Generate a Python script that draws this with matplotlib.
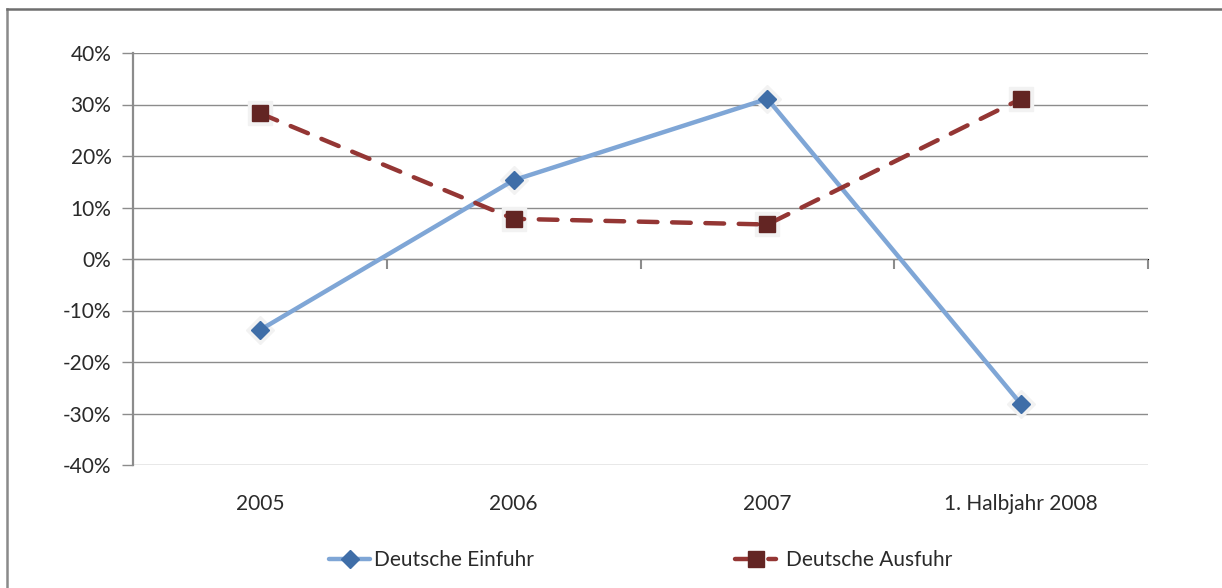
import matplotlib
matplotlib.use("Agg")
import matplotlib.pyplot as plt
from matplotlib.lines import Line2D
from matplotlib.ticker import FuncFormatter

# ---- data ----
categories = ["2005", "2006", "2007", "1. Halbjahr 2008"]
einfuhr = [-0.138, 0.153, 0.311, -0.282]
ausfuhr = [0.283, 0.078, 0.067, 0.311]
series_labels = ["Deutsche Einfuhr", "Deutsche Ausfuhr"]
y_ticks = [-0.4, -0.3, -0.2, -0.1, 0.0, 0.1, 0.2, 0.3, 0.4]

FONT = ["Lato", "DejaVu Sans"]
plt.rcParams["font.family"] = FONT
TXT = "#2a2a2a"
GRID = "#8c8c8c"

fig = plt.figure(figsize=(12.22, 5.88), dpi=100)
fig.patch.set_facecolor("white")

# outer frame (left and top edges)
fig.add_artist(Line2D([7 / 1222, 7 / 1222], [0, 1 - 9 / 588], transform=fig.transFigure,
                      color="#8a8a8a", lw=1.8))
fig.add_artist(Line2D([7 / 1222, 1], [1 - 9 / 588, 1 - 9 / 588], transform=fig.transFigure,
                      color="#6e6e6e", lw=1.8))

ax = fig.add_axes([133 / 1222, 1 - 465 / 588, (1148 - 133) / 1222, (465 - 53) / 588])
x = [i + 0.5 for i in range(len(categories))]

ax.set_xlim(0, len(categories))
ax.set_ylim(y_ticks[0], y_ticks[-1])

# grid
ax.set_yticks(y_ticks)
ax.yaxis.set_major_formatter(FuncFormatter(lambda v, p: f"{v * 100:.0f}%"))
ax.grid(axis="y", color=GRID, lw=1.0, zorder=0)
ax.grid(axis="x", visible=False)

for s in ["top", "right", "bottom"]:
    ax.spines[s].set_visible(False)
ax.spines["left"].set_color(GRID)
ax.spines["left"].set_linewidth(1.6)

ax.tick_params(axis="y", direction="out", length=8, width=1.0, color=GRID,
               labelsize=15, labelcolor=TXT, pad=7.5)
ax.set_xticks(x)
ax.set_xticklabels(categories)
ax.tick_params(axis="x", length=0, labelsize=15, labelcolor=TXT, pad=21)

# zero axis with category boundary ticks
sec = ax.secondary_xaxis(0.5)
bounds = list(range(len(categories) + 1))
sec.set_xticks(bounds)
sec.set_xticklabels([""] * len(bounds))
sec.tick_params(axis="x", direction="in", length=7, width=1.5, color=GRID)
sec.spines["bottom"].set_color("#808080")
sec.spines["bottom"].set_linewidth(2.6)

# halos
ax.plot(x, einfuhr, linestyle="none", marker="D", markersize=14, color="#f2f2f2", zorder=3)
ax.plot(x, ausfuhr, linestyle="none", marker="s", markersize=17, color="#f2f2f2", zorder=3)

l1, = ax.plot(x, einfuhr, color="#7fa6d6", lw=3.2, marker="D", markersize=9,
              markerfacecolor="#3f6ea8", markeredgecolor="#3f6ea8", zorder=4,
              solid_capstyle="round", solid_joinstyle="round")
l2, = ax.plot(x, ausfuhr, color="#943634", lw=3.2, linestyle=(0, (4.2, 3.3)),
              dash_capstyle="round", marker="s", markersize=11.5,
              markerfacecolor="#632523", markeredgecolor="#632523", zorder=4)

fig.legend([l1], [series_labels[0]], loc="center left",
           bbox_to_anchor=(310 / 1222, 1 - 560 / 588), frameon=False,
           fontsize=15, handlelength=2.0, handletextpad=0.15, labelcolor=TXT)
fig.legend([l2], [series_labels[1]], loc="center left",
           bbox_to_anchor=(716 / 1222, 1 - 560 / 588), frameon=False,
           fontsize=15, handlelength=2.0, handletextpad=0.45, labelcolor=TXT)

fig.savefig("out.png", dpi=100, facecolor="white")
